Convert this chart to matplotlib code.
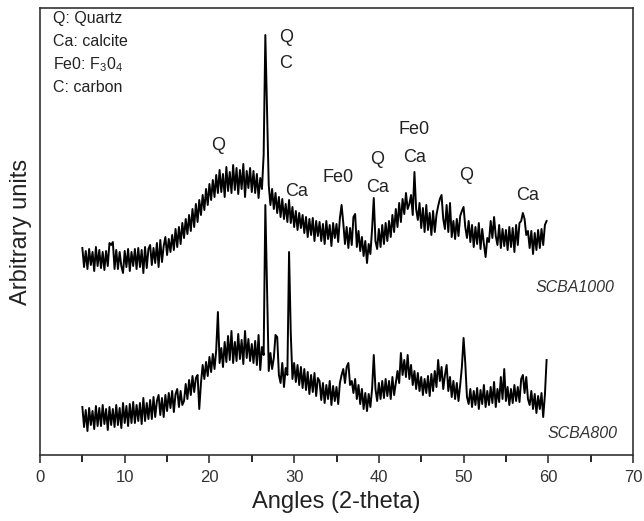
import numpy as np
import matplotlib
matplotlib.use("Agg")
import matplotlib.pyplot as plt
from matplotlib.ticker import MultipleLocator

plt.rc('font', family='Liberation Sans')
plt.rc('mathtext', fontset='custom', rm='Liberation Sans', it='Liberation Sans:italic')

# ---------------- data (arbitrary units) ----------------
angle_start, angle_step = 5.0, 0.2
angles = np.round(angle_start + angle_step * np.arange(275), 1)   # 5.0 ... 59.8

scba1000 = [
    207, 188, 204, 186, 206, 190, 203, 184, 208, 189,   # 5.0 - 6.8
    205, 187, 203, 185, 204, 189, 212, 210, 213, 186,   # 7.0 - 8.8
    205, 186, 203, 189, 182, 204, 188, 206, 184, 203,   # 9.0 - 10.8
    189, 206, 186, 207, 188, 205, 182, 208, 187, 206,   # 11.0 - 12.8
    210, 190, 207, 192, 212, 188, 215, 193, 209, 218,   # 13.0 - 14.8
    200, 216, 203, 220, 205, 226, 208, 228, 211, 232,   # 15.0 - 16.8
    217, 236, 221, 240, 224, 246, 228, 251, 233, 255,   # 17.0 - 18.8
    240, 260, 245, 266, 250, 271, 255, 275, 258, 280,   # 19.0 - 20.8
    262, 285, 263, 281, 258, 288, 264, 283, 262, 290,   # 21.0 - 22.8
    265, 287, 261, 285, 266, 291, 258, 284, 267, 287,   # 23.0 - 24.8
    263, 284, 262, 281, 257, 277, 266, 300, 420, 345,   # 25.0 - 26.8
    270, 250, 266, 246, 262, 242, 258, 238, 256, 236,   # 27.0 - 28.8
    251, 233, 255, 232, 248, 228, 244, 225, 242, 227,   # 29.0 - 30.8
    240, 222, 238, 218, 236, 220, 237, 214, 234, 219,   # 31.0 - 32.8
    233, 214, 231, 211, 234, 216, 230, 209, 232, 217,   # 33.0 - 34.8
    231, 213, 237, 250, 232, 211, 228, 207, 227, 210,   # 35.0 - 36.8
    238, 241, 208, 224, 204, 218, 199, 214, 192, 211,   # 37.0 - 38.8
    201, 226, 257, 214, 206, 226, 208, 230, 211, 232,   # 39.0 - 40.8
    214, 234, 218, 240, 223, 246, 228, 252, 233, 256,   # 41.0 - 42.8
    241, 262, 246, 251, 260, 240, 283, 246, 235, 252,   # 43.0 - 44.8
    227, 247, 223, 250, 225, 242, 220, 244, 223, 240,   # 45.0 - 46.8
    249, 256, 260, 236, 226, 250, 223, 252, 218, 234,   # 47.0 - 48.8
    216, 236, 219, 239, 244, 248, 228, 217, 234, 213,   # 49.0 - 50.8
    230, 208, 228, 211, 232, 206, 226, 211, 198, 217,   # 51.0 - 52.8
    213, 234, 217, 238, 219, 210, 230, 207, 226, 209,   # 53.0 - 54.8
    225, 205, 228, 208, 227, 203, 230, 210, 232, 234,   # 55.0 - 56.8
    242, 236, 220, 224, 207, 224, 201, 222, 205, 225,   # 57.0 - 58.8
    207, 226, 210, 230, 234,                            # 59.0 - 59.8
]

scba800 = [
    48, 28, 45, 24, 47, 30, 44, 26, 49, 29,             # 5.0 - 6.8
    47, 29, 50, 31, 46, 25, 48, 30, 46, 28,             # 7.0 - 8.8
    50, 30, 47, 27, 52, 32, 49, 29, 51, 32,             # 9.0 - 10.8
    53, 32, 50, 34, 52, 31, 57, 34, 52, 36,             # 11.0 - 12.8
    55, 36, 58, 38, 54, 60, 40, 57, 38, 60,             # 13.0 - 14.8
    44, 62, 47, 64, 43, 61, 66, 48, 64, 50,             # 15.0 - 16.8
    54, 71, 56, 75, 60, 79, 63, 77, 80, 46,             # 17.0 - 18.8
    72, 90, 76, 93, 79, 98, 83, 101, 86, 105,           # 19.0 - 20.8
    143, 92, 107, 88, 113, 93, 119, 95, 124, 92,        # 21.0 - 22.8
    113, 94, 121, 96, 115, 91, 124, 97, 116, 94,        # 23.0 - 24.8
    111, 92, 114, 90, 120, 85, 108, 100, 250, 168,      # 25.0 - 26.8
    84, 102, 86, 97, 120, 118, 80, 72, 92, 68,          # 27.0 - 28.8
    87, 80, 203, 122, 76, 92, 73, 90, 70, 88,           # 29.0 - 30.8
    67, 86, 65, 83, 61, 80, 63, 82, 59, 77,             # 31.0 - 32.8
    74, 55, 72, 52, 70, 56, 74, 50, 69, 54,             # 33.0 - 34.8
    68, 51, 72, 80, 86, 72, 88, 92, 70, 74,             # 35.0 - 36.8
    62, 76, 56, 70, 51, 66, 46, 62, 44, 61,             # 37.0 - 38.8
    48, 66, 100, 66, 54, 72, 56, 74, 57, 76,            # 39.0 - 40.8
    59, 74, 56, 78, 60, 72, 84, 72, 102, 80,            # 41.0 - 42.8
    95, 78, 100, 76, 90, 70, 84, 66, 82, 64,            # 43.0 - 44.8
    78, 60, 76, 62, 79, 59, 81, 64, 84, 68,             # 45.0 - 46.8
    95, 74, 88, 66, 80, 90, 64, 78, 58, 74,             # 47.0 - 48.8
    56, 72, 54, 70, 88, 117, 92, 58, 51, 66,            # 49.0 - 50.8
    48, 64, 50, 67, 46, 65, 51, 70, 48, 64,             # 51.0 - 52.8
    50, 68, 52, 73, 48, 66, 53, 78, 56, 86,             # 53.0 - 54.8
    54, 68, 50, 66, 52, 70, 54, 68, 53, 76,             # 55.0 - 56.8
    80, 62, 78, 56, 50, 64, 46, 61, 42, 59,             # 57.0 - 58.8
    46, 62, 38, 60, 95,                                 # 59.0 - 59.8
]

# peak labels: (text, angle, height)
peak_labels = [("Q", 21.0, 310), ("Q", 29.0, 418), ("C", 29.0, 392),
               ("Ca", 30.3, 264), ("Fe0", 35.2, 277), ("Q", 39.8, 295),
               ("Ca", 39.8, 268), ("Fe0", 44.2, 325), ("Ca", 44.2, 298),
               ("Q", 50.3, 280), ("Ca", 57.5, 259)]

key_lines = ["Q: Quartz", "Ca: calcite", "Fe0: F$_3$0$_4$", "C: carbon"]

# ---------------- figure ----------------
fig = plt.figure(figsize=(6.44, 5.21), dpi=100)
ax = fig.add_axes([40 / 644, 66 / 521, 593 / 644, 447 / 521])

ax.plot(angles, scba1000, color="black", lw=1.4)
ax.plot(angles, scba800, color="black", lw=1.4)

for txt, xa, ya in peak_labels:
    ax.text(xa, ya, txt, ha="center", va="center", fontsize=13, color="#222222")

for i, line in enumerate(key_lines):
    ax.text(1.5, 437 - i * 23.3, line, ha="left", va="center", fontsize=11.5, color="#222222")

ax.text(67.8, 168, "SCBA1000", ha="right", va="center", fontsize=11.5, style="italic", color="#333333")
ax.text(68.2, 22, "SCBA800", ha="right", va="center", fontsize=11.5, style="italic", color="#333333")

ax.set_xlim(0, 70)
ax.set_ylim(0, 447)
ax.set_xlabel("Angles (2-theta)", fontsize=17, color="#222222", labelpad=4)
ax.set_ylabel("Arbitrary units", fontsize=17, color="#222222", labelpad=6)

ax.xaxis.set_major_locator(MultipleLocator(10))
ax.xaxis.set_minor_locator(MultipleLocator(5))
ax.set_yticks([])
ax.tick_params(axis="x", which="major", direction="out", length=6, width=1.2, labelsize=12, colors="#333333", pad=5)
ax.tick_params(axis="x", which="minor", direction="out", length=5, width=1.2)

for sp in ax.spines.values():
    sp.set_linewidth(1.2)
    sp.set_color("#333333")

fig.savefig("out.png", dpi=100)
